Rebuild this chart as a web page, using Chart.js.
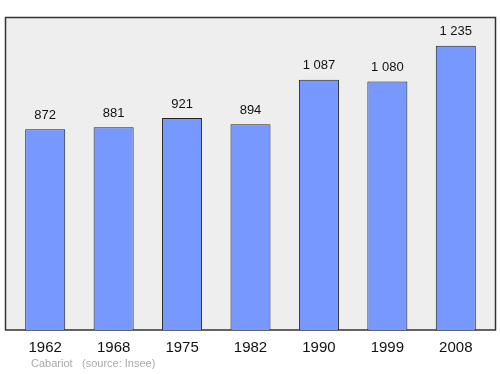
<!DOCTYPE html>
<html>
<head>
<meta charset="utf-8">
<script src="https://cdn.jsdelivr.net/npm/chart.js@4"></script>
<style>
  html, body { margin: 0; padding: 0; background: #ffffff; }
  #wrap { width: 500px; height: 374px; }
</style>
</head>
<body>
<div id="wrap"><canvas id="popChart" width="500" height="374"></canvas></div>
<script>
const years = ['1962', '1968', '1975', '1982', '1990', '1999', '2008'];
const population = [872, 881, 921, 894, 1087, 1080, 1235];
const yMax = 1360;
const footerLeft = 'Cabariot';
const footerRight = '(source: Insee)';

function formatNumber(n) {
    return String(n).replace(/\B(?=(\d{3})+(?!\d))/g, ' ');
}

// gray plot box behind the bars, slightly wider than the chart area
const plotBox = {
    id: 'plotBox',
    beforeDatasetsDraw(chart) {
        const ctx = chart.ctx;
        const x0 = 5.5, x1 = 495.5, y0 = 17.5, y1 = 330;
        ctx.save();
        ctx.fillStyle = '#eeeeee';
        ctx.fillRect(x0, y0, x1 - x0, y1 - y0);
        ctx.strokeStyle = '#333333';
        ctx.lineWidth = 1.5;
        ctx.strokeRect(x0, y0, x1 - x0, y1 - y0);
        ctx.restore();
    },
    afterDatasetsDraw(chart) {
        const ctx = chart.ctx;
        const meta = chart.getDatasetMeta(0);
        ctx.save();
        ctx.fillStyle = '#111111';
        ctx.font = '13px "Liberation Sans", Arial, sans-serif';
        ctx.textAlign = 'center';
        ctx.textBaseline = 'middle';
        meta.data.forEach((bar, i) => {
            ctx.fillText(formatNumber(population[i]), bar.x, bar.y - 14);
        });
        // footer
        ctx.fillStyle = '#aaaaaa';
        ctx.font = '11px "Liberation Sans", Arial, sans-serif';
        ctx.textAlign = 'left';
        ctx.fillText(footerLeft, 31, 364);
        ctx.fillText(footerRight, 82, 364);
        ctx.restore();
    }
};

const ctx = document.getElementById('popChart').getContext('2d');
new Chart(ctx, {
    type: 'bar',
    data: {
        labels: years,
        datasets: [{
            data: population,
            backgroundColor: '#7799ff',
            borderColor: '#222222',
            borderWidth: 1,
            categoryPercentage: 1,
            barPercentage: 0.585
        }]
    },
    options: {
        responsive: false,
        animation: false,
        layout: { padding: { left: 11, right: 10, top: 17, bottom: 0 } },
        scales: {
            x: {
                grid: { display: false, drawTicks: false },
                border: { display: false },
                ticks: {
                    color: '#111111',
                    font: { family: '"Liberation Sans", Arial, sans-serif', size: 15 },
                    padding: 9,
                    maxRotation: 0
                },
                afterFit(scale) { scale.height = 44; }
            },
            y: {
                display: false,
                min: 0,
                max: yMax
            }
        },
        plugins: {
            legend: { display: false },
            tooltip: { enabled: false }
        }
    },
    plugins: [plotBox]
});
</script>
</body>
</html>
